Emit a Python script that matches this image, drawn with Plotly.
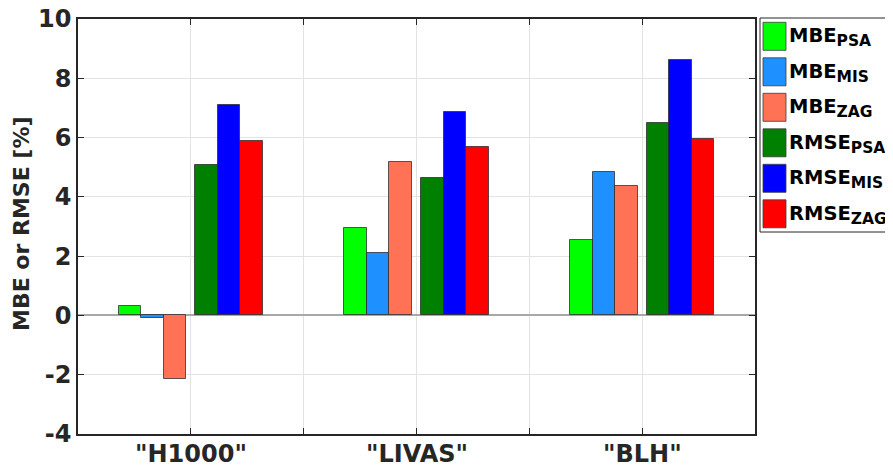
import plotly.graph_objects as go

categories = ['"H1000"', '"LIVAS"', '"BLH"']
series_names = ["MBE", "MBE", "MBE", "RMSE", "RMSE", "RMSE"]
series_subs = ["PSA", "MIS", "ZAG", "PSA", "MIS", "ZAG"]
mbe_psa = [0.32, 2.96, 2.54]
mbe_mis = [-0.10, 2.10, 4.83]
mbe_zag = [-2.16, 5.17, 4.38]
rmse_psa = [5.08, 4.63, 6.48]
rmse_mis = [7.10, 6.85, 8.61]
rmse_zag = [5.90, 5.69, 5.95]
series_values = [mbe_psa, mbe_mis, mbe_zag, rmse_psa, rmse_mis, rmse_zag]
colors = ["#00ff00", "#1e90ff", "#ff7256", "#008000", "#0000ff", "#ff0000"]
y_ticks = [-4, -2, 0, 2, 4, 6, 8, 10]
y_tick_text = ["-4", "-2", "0", "2", "4", "6", "8", "10"]

positions = [i + 1 for i in range(len(categories))]
bar_w = 0.1
offsets = [-0.32, -0.22, -0.12, 0.02, 0.12, 0.22]

FONT = "DejaVu Sans"
AX = "#262626"

fig = go.Figure()
for name, sub, vals, col, off in zip(series_names, series_subs, series_values, colors, offsets):
    fig.add_trace(go.Bar(
        x=positions, y=vals, width=bar_w, offset=off,
        name=f"{name}<sub>{sub}</sub>",
        marker=dict(color=col, line=dict(color="rgba(40,40,40,0.75)", width=1)),
        showlegend=False,
    ))

# x ticks (and grid) every half unit
xt_vals = []
for i, p in enumerate(positions):
    xt_vals.append(p)
    if i < len(positions) - 1:
        xt_vals.append(p + 0.5)

# page body has an 8px margin; compensate so the plot area lands at x 78..755, y 19..434
OFF = 8
W, H = 893 - OFF, 468 - OFF
L, T = 78 - OFF, 19 - OFF
pw, ph = 677, 415
R = W - L - pw
B = H - T - ph

def px(x):
    return (x - 78) / pw

def py(y):
    return (434 - y) / ph

shapes = [dict(type="rect", xref="paper", yref="paper",
               x0=px(760), x1=px(891.5), y0=py(232), y1=py(18),
               line=dict(color=AX, width=1), fillcolor="white", layer="above")]
annotations = []
for i, (name, sub, col) in enumerate(zip(series_names, series_subs, colors)):
    top = 22.3 + 35.5 * i
    shapes.append(dict(type="rect", xref="paper", yref="paper",
                       x0=px(763), x1=px(786), y0=py(top + 28), y1=py(top),
                       line=dict(color="rgba(60,60,60,0.8)", width=1), fillcolor=col, layer="above"))
    annotations.append(dict(xref="paper", yref="paper", x=px(787), y=py(top + 15),
                            xanchor="left", yanchor="middle", showarrow=False,
                            text=f"<b>{name}<sub><span style='font-size:15.5px'>{sub}</span></sub></b>",
                            font=dict(family=FONT, size=19.5, color="black")))

# category labels under the axis
for p, cat in zip(positions, categories):
    annotations.append(dict(xref="x", yref="paper", x=p, y=py(453.5),
                            xanchor="center", yanchor="middle", showarrow=False,
                            text=f"<b>{cat}</b>",
                            font=dict(family=FONT, size=24, color=AX)))

annotations.append(dict(xref="paper", yref="paper", x=px(21), y=py(224),
                        xanchor="center", yanchor="middle", showarrow=False, textangle=-90,
                        text="<b>MBE or RMSE [%]</b>",
                        font=dict(family=FONT, size=22, color=AX)))

fig.update_layout(
    width=W, height=H,
    margin=dict(l=L, r=R, t=T, b=B, pad=0, autoexpand=False),
    plot_bgcolor="white", paper_bgcolor="white",
    barmode="overlay",
    bargap=0,
    font=dict(family=FONT, color=AX),
    shapes=shapes, annotations=annotations,
    xaxis=dict(range=[0.5, len(categories) + 0.5], tickmode="array",
               tickvals=xt_vals, showticklabels=False, automargin=False,
               showgrid=True, gridcolor="#e3e3e3", gridwidth=1,
               showline=True, linecolor=AX, linewidth=1.5, mirror="ticks",
               ticks="inside", ticklen=6, tickcolor=AX, tickwidth=1,
               zeroline=False, fixedrange=True),
    yaxis=dict(range=[-4, 10], tickmode="array", tickvals=y_ticks, ticktext=y_tick_text,
               automargin=False, ticklabeloverflow="allow",
               showgrid=True, gridcolor="#e3e3e3", gridwidth=1,
               showline=True, linecolor=AX, linewidth=1.5, mirror="ticks",
               ticks="inside", ticklen=6, tickcolor=AX, tickwidth=1,
               tickfont=dict(family=FONT, size=24, color=AX, weight="bold"),
               zeroline=True, zerolinecolor="#a8a8a8", zerolinewidth=2,
               fixedrange=True),
)

fig.write_html("out.html")
